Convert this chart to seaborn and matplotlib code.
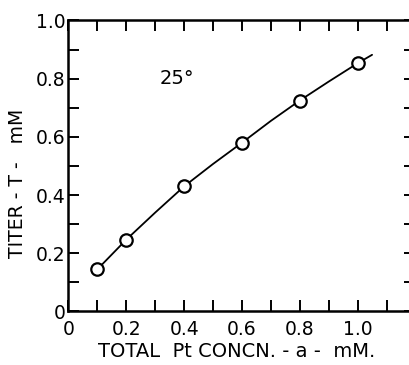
import seaborn as sns
import matplotlib.pyplot as plt
import pandas as pd
from matplotlib.ticker import MultipleLocator

sns.set_style("ticks", {"text.color": "black", "axes.labelcolor": "black",
                        "xtick.color": "black", "ytick.color": "black"})
plt.rcParams['font.family'] = ['DejaVu Sans']

# measured points
total_pt = [0.1, 0.2, 0.4, 0.6, 0.8, 1.0]
titer = [0.145, 0.247, 0.43, 0.58, 0.725, 0.853]

# smooth curve drawn through the points, extending a little past the last one
curve_x = [0.1, 0.2, 0.3, 0.4, 0.5, 0.6, 0.7, 0.8, 0.9, 1.0, 1.05]
curve_y = [0.145, 0.247, 0.34, 0.43, 0.507, 0.58, 0.655, 0.725, 0.79, 0.853, 0.882]

pts = pd.DataFrame({"a": total_pt, "T": titer})
crv = pd.DataFrame({"a": curve_x, "T": curve_y})

fig = plt.figure(figsize=(4.1, 3.65), dpi=100)
ax = fig.add_axes([0.167, 0.1466, 0.8463, 0.7973])

sns.lineplot(data=crv, x="a", y="T", ax=ax, color="black", linewidth=1.3)
sns.scatterplot(data=pts, x="a", y="T", ax=ax, marker="o", s=80,
                facecolor="white", edgecolor="black", linewidth=1.6, zorder=3)

ax.set_xlim(0, 1.2)
ax.set_ylim(0, 1.0)
ax.xaxis.set_minor_locator(MultipleLocator(0.1))
ax.yaxis.set_minor_locator(MultipleLocator(0.1))
ax.set_xticks([0, 0.2, 0.4, 0.6, 0.8, 1.0])
ax.set_xticklabels(["0", "0.2", "0.4", "0.6", "0.8", "1.0"])
ax.set_yticks([0, 0.2, 0.4, 0.6, 0.8, 1.0])
ax.set_yticklabels(["0", "0.2", "0.4", "0.6", "0.8", "1.0"])

for which in ("major", "minor"):
    ax.tick_params(axis="both", which=which, direction="in", length=8, width=1.4,
                   top=True, right=True, color="black", labelcolor="black")
ax.tick_params(axis="x", which="major", pad=6, labelsize=13.5)
ax.tick_params(axis="y", which="major", pad=2, labelsize=13.5)

for s in ax.spines.values():
    s.set_linewidth(1.8)
    s.set_color("black")

ax.set_xlabel("TOTAL  Pt CONCN. - a -  mM.", fontsize=14, color="black")
ax.set_ylabel("TITER - T -   mM", fontsize=13.5, color="black")
ax.xaxis.set_label_coords(0.485, -0.105)
ax.yaxis.set_label_coords(-0.12, 0.44)
ax.text(0.375, 0.8, "25°", fontsize=14, ha="center", va="center", color="black")

fig.savefig("out.png", dpi=100)
